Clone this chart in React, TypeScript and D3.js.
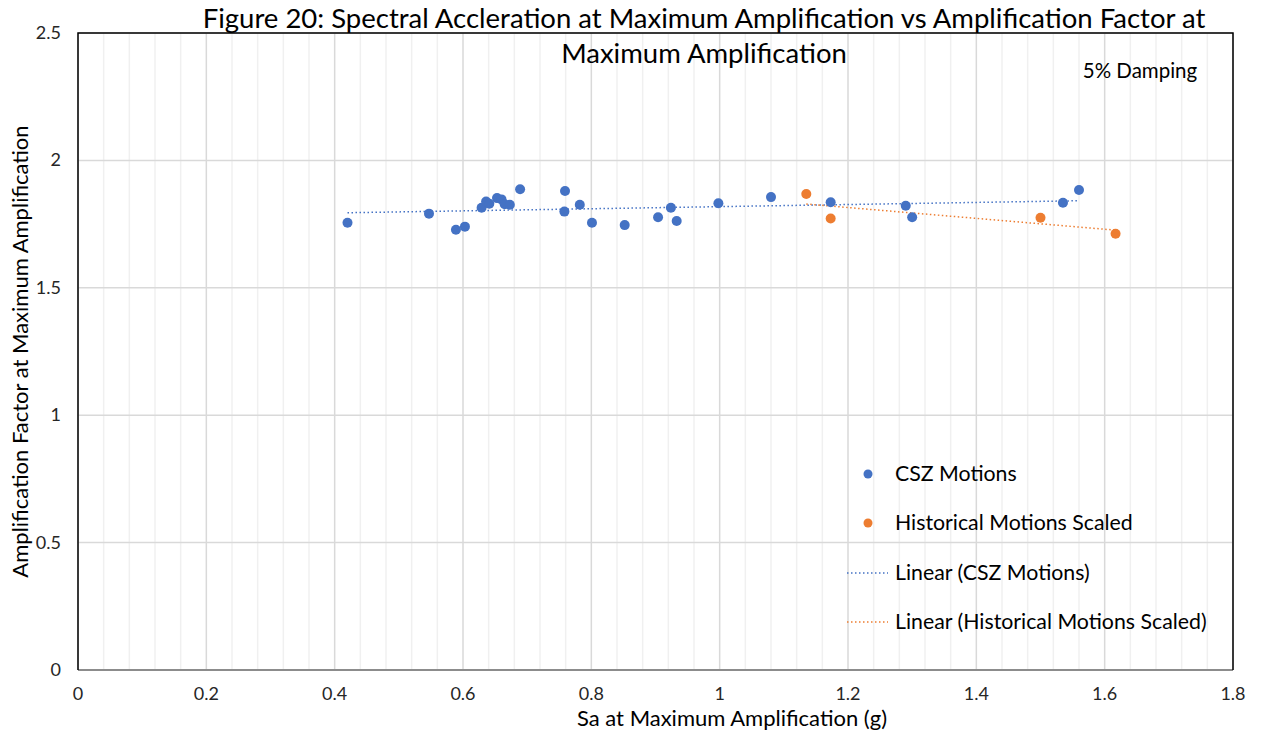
import React from "react";
import * as d3 from "d3";

const cszX = [0.420, 0.547, 0.589, 0.603, 0.629, 0.636, 0.641, 0.653, 0.660, 0.665, 0.673, 0.689, 0.759, 0.758, 0.782, 0.801, 0.852, 0.904, 0.924, 0.933, 0.998, 1.080, 1.173, 1.290, 1.300, 1.535, 1.560];
const cszY = [1.755, 1.791, 1.728, 1.740, 1.814, 1.839, 1.830, 1.852, 1.847, 1.828, 1.826, 1.887, 1.880, 1.799, 1.826, 1.755, 1.746, 1.777, 1.814, 1.762, 1.832, 1.856, 1.836, 1.822, 1.777, 1.834, 1.884];
const histX = [1.135, 1.173, 1.500, 1.617];
const histY = [1.868, 1.772, 1.775, 1.712];

const xTicks = [0, 0.2, 0.4, 0.6, 0.8, 1, 1.2, 1.4, 1.6, 1.8];
const yTicks = [0, 0.5, 1, 1.5, 2, 2.5];
const legendLabels = ["CSZ Motions", "Historical Motions Scaled", "Linear (CSZ Motions)", "Linear (Historical Motions Scaled)"];

const BLUE = "#4472C4";
const ORANGE = "#ED7D31";
const FONT = "Lato, 'Open Sans', sans-serif";

function fit(xs: number[], ys: number[]) {
  const mx = d3.mean(xs)!;
  const my = d3.mean(ys)!;
  let sxy = 0, sxx = 0;
  xs.forEach((x, i) => { sxy += (x - mx) * (ys[i] - my); sxx += (x - mx) * (x - mx); });
  const b = sxy / sxx;
  const a = my - b * mx;
  const x0 = d3.min(xs)!, x1 = d3.max(xs)!;
  return [[x0, a + b * x0], [x1, a + b * x1]] as [number, number][];
}

export default function App() {
  const W = 1262, H = 734;
  const L = 78, R = 1233, T = 33, B = 670;
  const x = d3.scaleLinear().domain([0, 1.8]).range([L, R]);
  const y = d3.scaleLinear().domain([0, 2.5]).range([B, T]);
  const minor = d3.range(0, 1.8001, 0.04).filter(v => Math.abs(v / 0.2 - Math.round(v / 0.2)) > 1e-6);
  const line = d3.line<[number, number]>().x(d => x(d[0])).y(d => y(d[1]));
  const cszFit = fit(cszX, cszY);
  const histFit = fit(histX, histY);
  const legY = [474, 523, 573, 622];

  return (
    <svg width={W} height={H} style={{ position: "absolute", left: 0, top: 0, background: "#fff" }} fontFamily={FONT}>
      <rect x={0} y={0} width={W} height={H} fill="#fff" />
      {minor.map((v, i) => (
        <line key={"m" + i} x1={x(v)} x2={x(v)} y1={T} y2={B} stroke="#f0f0f0" strokeWidth={1.5} />
      ))}
      {xTicks.map((v, i) => (
        <line key={"M" + i} x1={x(v)} x2={x(v)} y1={T} y2={B} stroke="#d9d9d9" strokeWidth={1.5} />
      ))}
      {yTicks.map((v, i) => (
        <line key={"h" + i} x1={L} x2={R} y1={y(v)} y2={y(v)} stroke="#d9d9d9" strokeWidth={1.5} />
      ))}
      <line x1={L} x2={R} y1={B} y2={B} stroke="#8c8c8c" strokeWidth={2} />
      <path d={`M${L},${B}V${T}H${R}V${B}`} fill="none" stroke="#000" strokeWidth={1.5} />

      {yTicks.map((v, i) => (
        <text key={"yt" + i} x={61} y={y(v) + 6} textAnchor="end" fontSize={18} fill="#262626">{String(v)}</text>
      ))}
      {xTicks.map((v, i) => (
        <text key={"xt" + i} x={x(v)} y={700} textAnchor="middle" fontSize={18} fill="#262626">{String(v)}</text>
      ))}

      <path d={line(cszFit)!} fill="none" stroke={BLUE} strokeWidth={1.5} strokeDasharray="1.5 2.5" />
      <path d={line(histFit)!} fill="none" stroke={ORANGE} strokeWidth={1.5} strokeDasharray="1.5 2.5" />

      {cszX.map((v, i) => (
        <circle key={"c" + i} cx={x(v)} cy={y(cszY[i])} r={5} fill={BLUE} />
      ))}
      {histX.map((v, i) => (
        <circle key={"o" + i} cx={x(v)} cy={y(histY[i])} r={5} fill={ORANGE} />
      ))}

      <text x={704} y={28} textAnchor="middle" fontSize={27.5} fill="#000">Figure 20: Spectral Accleration at Maximum Amplification vs Amplification Factor at</text>
      <text x={704} y={63} textAnchor="middle" fontSize={27.5} fill="#000">Maximum Amplification</text>
      <text x={1140} y={78} textAnchor="middle" fontSize={20.5} fill="#000">5% Damping</text>

      <text transform={`translate(28,${(T + B) / 2}) rotate(-90)`} textAnchor="middle" fontSize={22} fill="#000">Amplification Factor at Maximum Amplification</text>
      <text x={732} y={726} textAnchor="middle" fontSize={22} fill="#000">Sa at Maximum Amplification (g)</text>

      <circle cx={868} cy={legY[0]} r={4.5} fill={BLUE} />
      <circle cx={868} cy={legY[1]} r={4.5} fill={ORANGE} />
      <line x1={847} x2={888} y1={legY[2]} y2={legY[2]} stroke={BLUE} strokeWidth={1.5} strokeDasharray="1.5 2.5" />
      <line x1={847} x2={888} y1={legY[3]} y2={legY[3]} stroke={ORANGE} strokeWidth={1.5} strokeDasharray="1.5 2.5" />
      {legendLabels.map((s, i) => (
        <text key={"l" + i} x={895} y={legY[i] + 7} fontSize={21.3} fill="#000">{s}</text>
      ))}
    </svg>
  );
}
